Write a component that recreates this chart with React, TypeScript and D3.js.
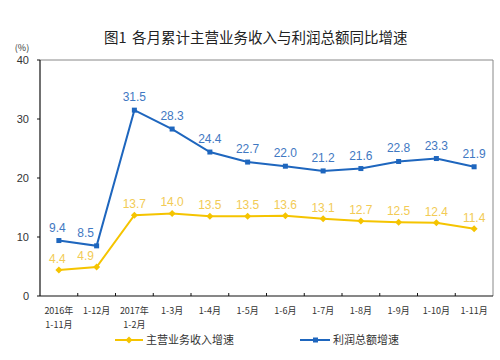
import React from "react";
import * as d3 from "d3";

const categories = [
  ["2016年", "1-11月"],
  ["1-12月"],
  ["2017年", "1-2月"],
  ["1-3月"],
  ["1-4月"],
  ["1-5月"],
  ["1-6月"],
  ["1-7月"],
  ["1-8月"],
  ["1-9月"],
  ["1-10月"],
  ["1-11月"],
];
const revenue = [4.4, 4.9, 13.7, 14.0, 13.5, 13.5, 13.6, 13.1, 12.7, 12.5, 12.4, 11.4];
const profit = [9.4, 8.5, 31.5, 28.3, 24.4, 22.7, 22.0, 21.2, 21.6, 22.8, 23.3, 21.9];
const yTicks = [0, 10, 20, 30, 40];
const titleNum = "图1";
const title = "各月累计主营业务收入与利润总额同比增速";
const revenueName = "主营业务收入增速";
const profitName = "利润总额增速";

const W = 500, H = 360;
const left = 40, right = 493, top = 60, bottom = 296;
const blue = "#1E66BE";
const blueText = "#3F78C2";
const yellow = "#F5C400";
const yellowText = "#F2CB55";
const font = "'Liberation Sans', Arial, 'Noto Sans CJK SC', sans-serif";
const cjk = "'Noto Sans CJK SC', 'Liberation Sans', sans-serif";

export default function App() {
  const x = d3.scaleBand<number>().domain(d3.range(categories.length)).range([left, right]);
  const y = d3.scaleLinear().domain([0, 40]).range([bottom, top]);
  const cx = (i: number) => (x(i) as number) + x.bandwidth() / 2;
  const line = d3.line<number>().x((_, i) => cx(i)).y((d) => y(d));
  const dx = (i: number) => (i === 1 ? -11 : i === 0 ? -1.5 : 0);

  return (
    <svg width={W} height={H} style={{ position: "absolute", left: 0, top: 0, background: "#fff" }}>
      <text x={104} y={43} fontFamily={cjk} fontSize={14.5} fill="#222">{titleNum}</text>
      <text x={132} y={43} fontFamily={cjk} fontSize={14.5} fill="#222">{title}</text>
      <text x={22} y={51} textAnchor="middle" fontFamily={cjk} fontSize={9} fill="#333">(%)</text>
      {/* frame */}
      <line x1={left} x2={right} y1={top} y2={top} stroke="#888" strokeWidth={1} />
      <line x1={right} x2={right} y1={top} y2={bottom} stroke="#888" strokeWidth={1} />
      <line x1={left} x2={left} y1={top} y2={bottom} stroke="#111" strokeWidth={1.2} />
      <line x1={left} x2={right} y1={bottom} y2={bottom} stroke="#111" strokeWidth={1.2} />
      {yTicks.map((t) => (
        <g key={t}>
          <line x1={left - 3} x2={left} y1={y(t)} y2={y(t)} stroke="#111" />
          <text x={29} y={y(t) + 4} textAnchor="end" fontFamily={font} fontSize={11} fill="#333">{t}</text>
        </g>
      ))}
      {d3.range(1, categories.length).map((i) => (
        <line key={i} x1={x(i) as number} x2={x(i) as number} y1={bottom} y2={bottom - 3} stroke="#111" />
      ))}
      {categories.map((c, i) => (
        <text key={i} textAnchor="middle" fontFamily={cjk} fontSize={9} fill="#333">
          {c.map((s, j) => (
            <tspan key={j} x={cx(i)} y={314 + j * 14}>{s}</tspan>
          ))}
        </text>
      ))}
      {/* profit */}
      <path d={line(profit) || ""} fill="none" stroke={blue} strokeWidth={2} />
      {profit.map((v, i) => (
        <rect key={i} x={cx(i) - 2.5} y={y(v) - 2.5} width={5} height={5} fill={blue} />
      ))}
      {profit.map((v, i) => (
        <text key={i} x={cx(i) + dx(i)} y={y(v) - 9} textAnchor="middle" fontFamily={font} fontSize={12} fill={blueText}>{v.toFixed(1)}</text>
      ))}
      {/* revenue */}
      <path d={line(revenue) || ""} fill="none" stroke={yellow} strokeWidth={2} />
      {revenue.map((v, i) => (
        <path key={i} d="M0,-3.5L3.5,0L0,3.5L-3.5,0Z" transform={`translate(${cx(i)},${y(v)})`} fill={yellow} />
      ))}
      {revenue.map((v, i) => (
        <text key={i} x={cx(i) + dx(i)} y={y(v) - 7} textAnchor="middle" fontFamily={font} fontSize={12} fill={yellowText}>{v.toFixed(1)}</text>
      ))}
      {/* legend */}
      <line x1={115} x2={143} y1={340} y2={340} stroke={yellow} strokeWidth={2} />
      <path d="M0,-3.5L3.5,0L0,3.5L-3.5,0Z" transform="translate(129,340)" fill={yellow} />
      <text x={146} y={344} fontFamily={cjk} fontSize={11} fill="#333">{revenueName}</text>
      <line x1={300} x2={330} y1={340} y2={340} stroke={blue} strokeWidth={2} />
      <rect x={313} y={337.5} width={5} height={5} fill={blue} />
      <text x={333} y={344} fontFamily={cjk} fontSize={11} fill="#333">{profitName}</text>
    </svg>
  );
}
